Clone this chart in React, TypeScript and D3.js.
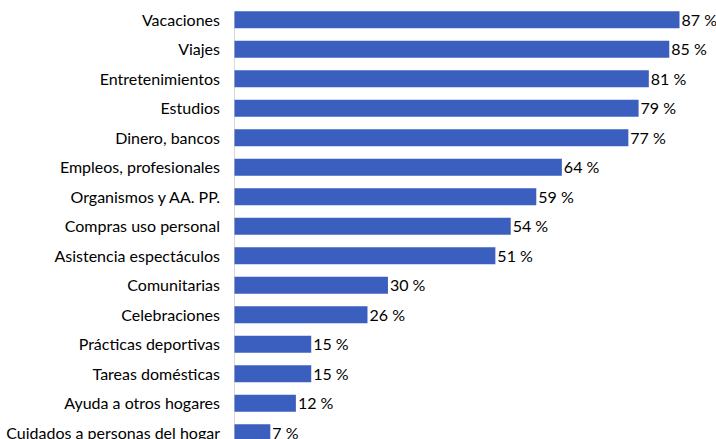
import React from "react";
import * as d3 from "d3";

const categories = [
  "Vacaciones",
  "Viajes",
  "Entretenimientos",
  "Estudios",
  "Dinero, bancos",
  "Empleos, profesionales",
  "Organismos y AA. PP.",
  "Compras uso personal",
  "Asistencia espectáculos",
  "Comunitarias",
  "Celebraciones",
  "Prácticas deportivas",
  "Tareas domésticas",
  "Ayuda a otros hogares",
  "Cuidados a personas del hogar",
];
const values = [87, 85, 81, 79, 77, 64, 59, 54, 51, 30, 26, 15, 15, 12, 7];

const W = 716;
const H = 439;
const FONT = "Lato, 'Open Sans', sans-serif";

export default function App() {
  const x = d3.scaleLinear().domain([0, 100]).range([234.5, 234.5 + 511.5]);
  const y = d3
    .scaleBand<string>()
    .domain(categories)
    .range([5, 5 + categories.length * 29.5])
    .paddingInner(0.424)
    .paddingOuter(0.212);
  return (
    <svg
      width={W}
      height={H}
      style={{ position: "absolute", left: 0, top: 0, background: "#fff" }}
    >
      <line x1={x(0)} x2={x(0)} y1={12} y2={H} stroke="#d9d9d9" strokeWidth={1} />
      {categories.map((c, i) => {
        const yy = y(c)!;
        const bw = y.bandwidth();
        return (
          <g key={c}>
            <rect
              x={x(0)}
              y={yy}
              width={x(values[i]) - x(0)}
              height={bw}
              fill="#3a5fbf"
            />
            <text
              x={220}
              y={yy + bw / 2}
              dy="0.36em"
              textAnchor="end"
              fontFamily={FONT}
              fontSize={16}
              fill="#000"
            >
              {c}
            </text>
            <text
              x={x(values[i]) + 2}
              y={yy + bw / 2}
              dy="0.36em"
              textAnchor="start"
              fontFamily={FONT}
              fontSize={16}
              fill="#000"
            >
              {`${values[i]} %`}
            </text>
          </g>
        );
      })}
    </svg>
  );
}
